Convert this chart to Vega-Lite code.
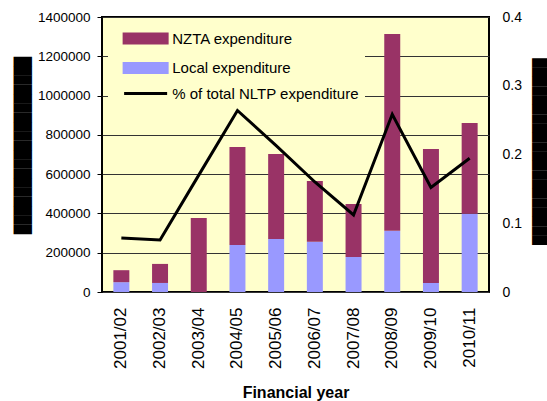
{
  "$schema": "https://vega.github.io/schema/vega-lite/v6.json",
  "width": 387,
  "height": 275,
  "autosize": {"type": "none"},
  "padding": {"left": 102, "top": 17, "right": 58, "bottom": 109},
  "background": "white",
  "config": {
    "view": {"fill": "#FFFFCC", "stroke": "#000", "strokeWidth": 2},
    "axis": {"labelColor": "#000", "titleColor": "#000", "labelFont": "Liberation Sans", "titleFont": "Liberation Sans"}
  },
  "datasets": {
    "bars": [
      {"year": "2001/02", "series": "Local expenditure", "value": 50000},
      {"year": "2001/02", "series": "NZTA expenditure", "value": 61000},
      {"year": "2002/03", "series": "Local expenditure", "value": 46000},
      {"year": "2002/03", "series": "NZTA expenditure", "value": 97000},
      {"year": "2003/04", "series": "Local expenditure", "value": 0},
      {"year": "2003/04", "series": "NZTA expenditure", "value": 377000},
      {"year": "2004/05", "series": "Local expenditure", "value": 239000},
      {"year": "2004/05", "series": "NZTA expenditure", "value": 499000},
      {"year": "2005/06", "series": "Local expenditure", "value": 270000},
      {"year": "2005/06", "series": "NZTA expenditure", "value": 433000},
      {"year": "2006/07", "series": "Local expenditure", "value": 256000},
      {"year": "2006/07", "series": "NZTA expenditure", "value": 309000},
      {"year": "2007/08", "series": "Local expenditure", "value": 178000},
      {"year": "2007/08", "series": "NZTA expenditure", "value": 270000},
      {"year": "2008/09", "series": "Local expenditure", "value": 312000},
      {"year": "2008/09", "series": "NZTA expenditure", "value": 1001000},
      {"year": "2009/10", "series": "Local expenditure", "value": 46000},
      {"year": "2009/10", "series": "NZTA expenditure", "value": 682000},
      {"year": "2010/11", "series": "Local expenditure", "value": 399000},
      {"year": "2010/11", "series": "NZTA expenditure", "value": 461000}
    ],
    "pct": [
      {"year": "2001/02", "pct": 0.0785},
      {"year": "2002/03", "pct": 0.0756},
      {"year": "2003/04", "pct": 0.170},
      {"year": "2004/05", "pct": 0.264},
      {"year": "2005/06", "pct": 0.213},
      {"year": "2006/07", "pct": 0.160},
      {"year": "2007/08", "pct": 0.112},
      {"year": "2008/09", "pct": 0.2585},
      {"year": "2009/10", "pct": 0.152},
      {"year": "2010/11", "pct": 0.1945}
    ]
  },
  "layer": [
    {
      "data": {"name": "bars"},
      "mark": {"type": "bar"},
      "encoding": {
        "x": {
          "field": "year", "type": "ordinal",
          "scale": {"paddingInner": 0.587, "paddingOuter": 0.2935},
          "axis": {
            "labelAngle": -90, "labelFontSize": 17, "labelPadding": 15,
            "ticks": false, "domain": false,
            "title": "Financial year", "titleFontSize": 16, "titleFontWeight": "bold",
            "titleY": 100, "titleBaseline": "middle"
          }
        },
        "y": {
          "field": "value", "type": "quantitative", "stack": "zero",
          "scale": {"domain": [0, 1400000], "nice": false},
          "axis": {
            "values": [0, 200000, 400000, 600000, 800000, 1000000, 1200000, 1400000],
            "format": "d", "labelFontSize": 13.5, "tickColor": "#000", "tickSize": 5,
            "labelPadding": 7, "domain": false, "grid": true, "gridColor": "#333", "gridOpacity": 1,
            "title": "███████████████████", "titleFont": "DejaVu Sans Mono", "titleFontSize": 15.5,
            "titleFontWeight": "normal", "titleX": -80, "titleY": 128, "titleAngle": 270,
            "titleBaseline": "middle", "titleAlign": "center"
          }
        },
        "color": {
          "field": "series", "type": "nominal",
          "scale": {
            "domain": ["NZTA expenditure", "Local expenditure", "% of total NLTP expenditure"],
            "range": ["#993366", "#9999FF", "#000000"]
          },
          "legend": {
            "title": null, "orient": "none", "legendX": 6, "legendY": 8,
            "fillColor": "#FFFFCC", "padding": 6,
            "symbolSize": 115.6, "labelFont": "Liberation Sans", "labelFontSize": 15,
            "labelColor": "#000", "labelOffset": 43.25, "rowPadding": 6.5, "labelLimit": 400,
            "encode": {
              "symbols": {
                "update": {
                  "shape": {"signal": "datum.value === '% of total NLTP expenditure' ? 'M0.488,0H8.488' : 'M0.488,-0.84H8.488V0.84H0.488Z'"},
                  "fill": {"signal": "datum.value === 'NZTA expenditure' ? '#993366' : datum.value === 'Local expenditure' ? '#9999FF' : 'transparent'"},
                  "stroke": {"signal": "datum.value === '% of total NLTP expenditure' ? '#000000' : 'transparent'"},
                  "strokeWidth": {"value": 3},
                  "opacity": {"value": 1},
                  "fillOpacity": {"value": 1},
                  "strokeOpacity": {"value": 1}
                }
              }
            }
          }
        },
        "order": {"field": "series", "sort": "ascending"}
      }
    },
    {
      "data": {"name": "pct"},
      "mark": {"type": "line", "strokeWidth": 3},
      "encoding": {
        "x": {"field": "year", "type": "ordinal"},
        "y": {
          "field": "pct", "type": "quantitative",
          "scale": {"domain": [0, 0.4], "nice": false},
          "axis": {
            "orient": "right", "values": [0, 0.1, 0.2, 0.3, 0.4], "format": ".1~f",
            "labelFontSize": 14, "ticks": false, "domain": false, "grid": false, "labelPadding": 13,
            "title": "████████████████████", "titleFont": "DejaVu Sans Mono", "titleFontSize": 15.5,
            "titleFontWeight": "normal", "titleX": 51, "titleY": 134, "titleAngle": 90,
            "titleBaseline": "middle", "titleAlign": "center"
          }
        },
        "color": {"datum": "% of total NLTP expenditure"}
      }
    }
  ],
  "resolve": {"scale": {"y": "independent"}}
}
